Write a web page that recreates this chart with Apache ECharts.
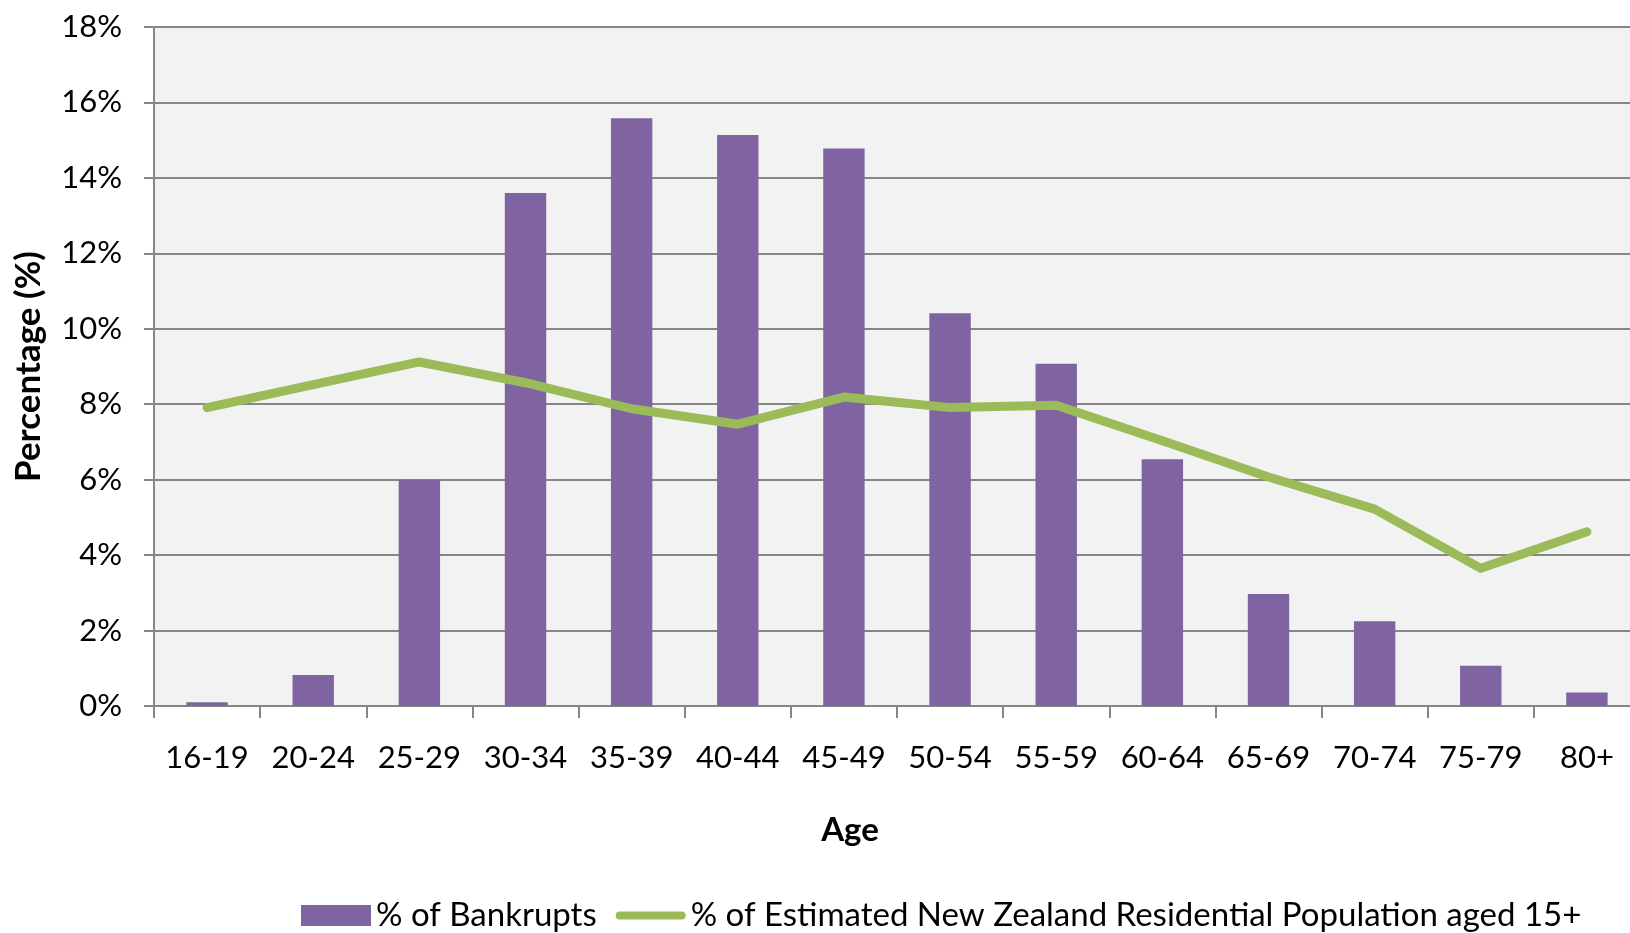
<!DOCTYPE html>
<html>
<head>
<meta charset="utf-8">
<script src="https://cdn.jsdelivr.net/npm/echarts@6/dist/echarts.min.js"></script>
<style>
  html, body { margin: 0; padding: 0; background: #fff; }
  #chart { width: 1630px; height: 933px; }
</style>
</head>
<body>
<div id="chart"></div>
<script>
// age groups along the x axis
var ageGroups = ['16-19', '20-24', '25-29', '30-34', '35-39', '40-44', '45-49',
  '50-54', '55-59', '60-64', '65-69', '70-74', '75-79', '80+']
// % of bankrupts (bars)
var bankrupts = [0.1, 0.82, 6.0, 13.6, 15.58, 15.14, 14.78, 10.41, 9.07, 6.54, 2.97, 2.25, 1.07, 0.36]
// % of estimated NZ residential population aged 15+ (line)
var population = [7.91, 8.52, 9.12, 8.57, 7.88, 7.47, 8.19, 7.91, 7.97, 7.03, 6.07, 5.22, 3.65, 4.62]

var FONT = 'Lato'
var gridColor = '#868686'
var lineIcon = 'path://M4,0 H66 A4,4 0 0 1 66,8 H4 A4,4 0 0 1 4,0 Z'

var myChart = echarts.init(document.getElementById('chart'))
var option = {
  backgroundColor: '#ffffff',
  animation: false,
  textStyle: { fontFamily: FONT, color: '#000' },
  grid: {
    left: 154,
    top: 27,
    width: 1486,
    bottom: 227,
    outerBoundsMode: 'none',
    show: true,
    backgroundColor: '#f2f2f2',
    borderWidth: 0
  },
  legend: {
    left: 296,
    top: 894,
    itemWidth: 70,
    itemHeight: 21,
    itemGap: 19,
    textStyle: { fontFamily: FONT, fontSize: 33, color: '#000' },
    data: [
      { name: '% of Bankrupts', icon: 'rect' },
      { name: '% of Estimated New Zealand Residential Population aged 15+', icon: lineIcon }
    ]
  },
  xAxis: {
    type: 'category',
    data: ageGroups,
    name: 'Age',
    nameLocation: 'middle',
    nameGap: 108,
    nameTextStyle: {
      fontFamily: FONT, fontSize: 33, fontWeight: 'bold', color: '#000',
      padding: [0, 94, 0, 0]
    },
    axisLine: { lineStyle: { color: gridColor, width: 2 } },
    axisTick: { show: true, length: 12, lineStyle: { color: gridColor, width: 2 } },
    axisLabel: { margin: 36, fontSize: 31, color: '#000', fontFamily: FONT, interval: 0 }
  },
  yAxis: {
    type: 'value',
    min: 0,
    max: 18,
    interval: 2,
    name: 'Percentage (%)',
    nameLocation: 'middle',
    nameGap: 108,
    nameTextStyle: { fontFamily: FONT, fontSize: 35, fontWeight: 'bold', color: '#000' },
    axisLine: { show: true, lineStyle: { color: gridColor, width: 2 } },
    axisTick: { show: true, length: 10, lineStyle: { color: gridColor, width: 2 } },
    axisLabel: { margin: 32, fontSize: 31, color: '#000', fontFamily: FONT, formatter: '{value}%' },
    splitLine: { show: true, lineStyle: { color: gridColor, width: 2 } }
  },
  series: [
    {
      name: '% of Bankrupts',
      type: 'bar',
      data: bankrupts,
      barWidth: '39%',
      itemStyle: { color: '#8064a2' }
    },
    {
      name: '% of Estimated New Zealand Residential Population aged 15+',
      type: 'line',
      data: population,
      symbol: 'none',
      lineStyle: { color: '#9bbb59', width: 9, cap: 'round', join: 'round' },
      itemStyle: { color: '#9bbb59' }
    }
  ]
}
myChart.setOption(option)
</script>
</body>
</html>
